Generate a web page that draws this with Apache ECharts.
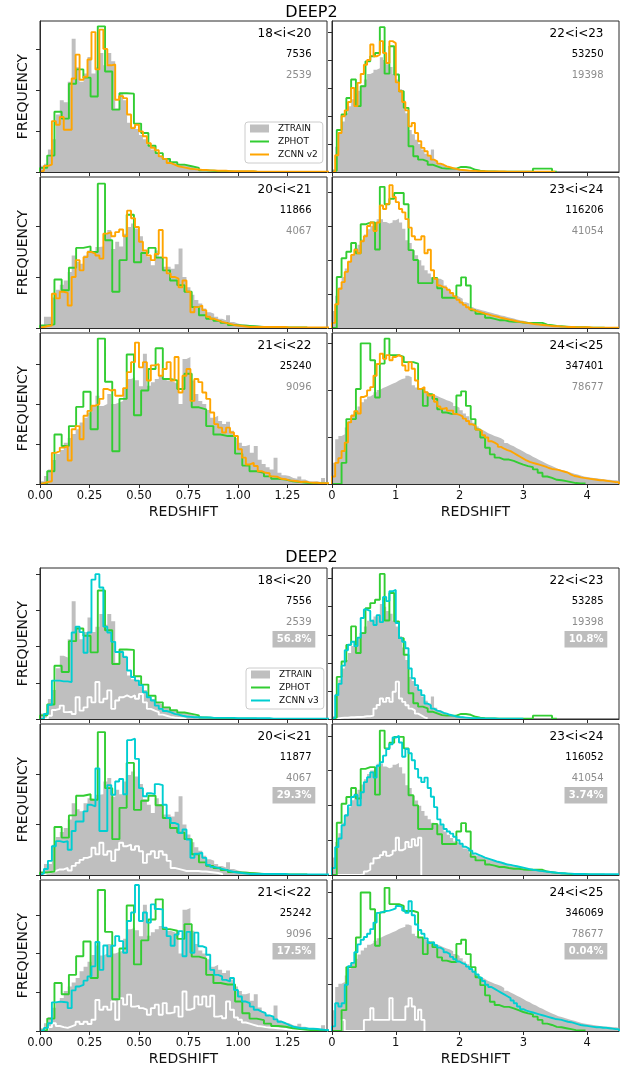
<!DOCTYPE html>
<html><head><meta charset="utf-8">
<script src="https://cdn.jsdelivr.net/npm/echarts@6/dist/echarts.min.js"></script>
<style>html,body{margin:0;padding:0;background:#fff}#c{width:633px;height:1070px}</style>
</head><body><div id="c"></div>
<script>
// ---------------- DATA (heights in units of the y tick spacing) ----------------
// bin widths
const FINE_L = 0.02, FINE_R = 0.05, PHOT_L = 0.0365, PHOT_R = 0.075;

const magLabels = ['18<i<20','20<i<21','21<i<22','22<i<23','23<i<24','24<i<25'];
const nPhotV2 = ['7536','11866','25240','53250','116206','347401'];
const nPhotV3 = ['7556','11877','25242','53285','116052','346069'];
const nTrain  = ['2539','4067','9096','19398','41054','78677'];
const pctV3   = ['56.8%','29.3%','17.5%','10.8%','3.74%','0.04%'];
const xTicksLeft = [0,0.25,0.5,0.75,1,1.25];
const xTicksRight = [0,1,2,3,4];

// 18<i<20
const ztrain_18_20 = [0.15,0.2,0.55,0.8,1.4,1.75,1.7,2.2,3.25,2.55,2.2,2.4,2.8,2.4,2.55,2.9,2.6,2.9,2.7,1.55,1.9,1.75,1.2,1.1,1.05,0.9,0.8,0.65,0.55,0.45,0.4,0.33,0.3,0.24,0.2,0.19,0.15,0.14,0.1,0.08,0.06,0.05,0.04,0.03,0.03,0.02,0.02,0.01,0.01,0.01,0,0.01,0,0,0.01];
const zphot_18_20 = [0.1,0.4,1.47,1.3,2.15,2.5,2.3,1.84,3.55,2.45,1.52,1.92,1.91,1.18,0.95,0.64,0.46,0.32,0.24,0.18,0.14,0.1,0.04,0.03,0.02,0.02,0.01,0.01,0.01,0.01];
const zcnn2_18_20 = [0.03,0.15,0.18,1.24,1.15,1.34,1.03,1.03,2.28,2.86,2.25,2.32,2.74,3.41,2.5,3.47,3.0,2.6,2.62,1.76,1.85,1.8,1.4,1.07,1.15,0.99,0.87,0.7,0.59,0.53,0.38,0.32,0.22,0.18,0.14,0.12,0.1,0.08,0.07,0.06,0.05,0.05,0.04,0.04,0.03,0.03,0.03,0.02,0.02,0.02,0.02,0.02,0.02,0.02,0.01,0.01,0.01,0.01,0.01,0.01,0.01,0.01,0.01,0.01,0.01,0.01,0.01,0.01,0.01,0.01,0.01,0.01,0.01];
const zcnn3_18_20 = [0.01,0.14,0.39,1.06,1.06,1.04,1.04,1.02,2.39,2.55,2.4,1.83,2.39,3.85,4.0,3.63,2.55,2.39,2.13,1.85,1.85,1.71,1.34,1.16,1.06,0.93,0.74,0.6,0.51,0.37,0.28,0.22,0.19,0.14,0.12,0.09,0.07,0.06,0.05,0.05,0.04,0.04,0.04,0.03,0.03,0.03,0.03,0.03,0.03,0.02,0.02,0.02,0.02,0.02,0.02,0.02,0.02,0.02,0.01,0.01,0.01,0.01,0.01,0.01,0.01,0.01,0.01,0.01,0.01,0.01,0.01,0.01,0.01];
const zsub_18_20 = [0,0.02,0.09,0.25,0.28,0.37,0.19,0.2,0.14,0.6,0.23,0.32,0.6,0.46,1.02,0.46,0.56,0.79,0.28,0.51,0.6,0.65,0.6,0.65,0.56,0.69,0.46,0.28,0.23,0.19,0.12,0.09,0.06,0.04,0.03,0.02,0.01];

// 20<i<21
const ztrain_20_21 = [0.05,0.22,0.22,0.6,0.75,0.85,0.93,1.1,1.42,1.3,1.26,1.42,1.52,1.5,1.59,1.6,1.85,1.92,1.55,1.69,1.6,1.85,1.98,2.05,1.95,1.8,1.5,1.39,1.23,1.52,1.4,1.2,1.2,1.16,1.25,1.56,1.0,0.8,0.65,0.55,0.48,0.38,0.31,0.28,0.22,0.18,0.15,0.25,0.12,0.09,0.07,0.07,0.06,0.06,0.05,0.04,0.04,0.03,0.02,0.02,0.02,0.02,0.02,0.02,0.02,0.01,0.01,0.01,0.01,0.01,0.01,0.01,0.01];
const zphot_20_21 = [0.05,0.07,0.95,0.74,1.18,1.57,1.6,1.49,2.83,1.72,0.71,1.33,2.22,1.29,1.47,1.57,1.38,1.13,0.93,0.84,0.71,0.41,0.25,0.18,0.14,0.1,0.06,0.05,0.04,0.03,0.02,0.02,0.01,0.01,0.01,0.01,0.01];
const zcnn2_20_21 = [0.02,0.04,0.05,0.67,0.58,0.71,0.69,0.44,1.0,1.33,1.13,1.39,1.49,1.46,1.42,1.36,1.85,1.88,1.8,1.88,1.93,1.8,2.3,2.15,1.98,1.69,1.52,1.42,1.33,1.45,1.92,1.38,1.07,1.0,0.97,0.8,0.93,0.71,0.31,0.41,0.44,0.35,0.22,0.18,0.15,0.12,0.1,0.08,0.06,0.05,0.04,0.03,0.02,0.02,0.02,0.02,0.02,0.02,0.02,0.02,0.02,0.02,0.01,0.01,0.01,0.01,0.01,0.01,0.01,0.01,0.01,0.01,0.01];
const zcnn3_20_21 = [0.03,0.12,0.28,0.57,0.67,0.65,0.67,0.5,0.87,1.06,1.06,1.26,1.39,1.36,2.11,0.87,0.87,1.78,1.59,1.85,1.9,1.6,2.67,2.7,2.3,1.72,1.56,1.62,1.6,1.8,1.78,1.39,1.13,1.03,1.0,0.83,0.9,0.7,0.34,0.42,0.44,0.34,0.2,0.16,0.14,0.12,0.1,0.08,0.06,0.05,0.04,0.03,0.02,0.02,0.02,0.02,0.02,0.02,0.02,0.02,0.02,0.02,0.01,0.01,0.01,0.01,0.01,0.01,0.01,0.01,0.01,0.01,0.01];
const zsub_20_21 = [0.01,0.04,0.06,0.08,0.11,0.11,0.14,0.09,0.18,0.24,0.3,0.34,0.37,0.54,0.41,0.64,0.4,0.47,0.28,0.5,0.64,0.57,0.6,0.5,0.57,0.47,0.24,0.41,0.47,0.34,0.47,0.4,0.28,0.14,0.12,0.1,0.08,0.08,0.08,0.08,0.07,0.07,0.06,0.05,0.04,0.02];

// 21<i<22
const ztrain_21_22 = [0.07,0.2,0.36,0.6,0.75,0.85,1.03,1.15,1.25,1.37,1.54,1.66,1.79,1.96,2.21,1.95,2.0,2.25,2.0,2.04,2.08,2.38,2.63,2.67,2.6,2.45,3.26,2.46,2.55,2.63,2.71,2.65,2.59,2.55,2.5,2.0,3.13,3.18,2.59,2.25,2.08,2.0,1.85,1.66,1.71,1.58,1.5,1.56,1.33,1.15,1.03,0.95,0.98,0.78,0.95,0.61,0.5,0.42,0.36,0.66,0.28,0.22,0.2,0.15,0.13,0.19,0.11,0.07,0.06,0.07,0.05,0.15,0.05];
const zphot_21_22 = [0.02,0.32,1.24,0.95,1.45,1.93,2.31,1.37,3.64,2.56,0.82,2.13,3.24,1.72,2.34,2.88,3.4,2.63,2.59,2.38,2.76,1.92,1.87,1.45,1.24,1.2,1.2,0.76,0.46,0.32,0.28,0.19,0.13,0.11,0.07,0.05,0.03,0.02,0.02,0.01];
const zcnn2_21_22 = [0.02,0.05,0.07,0.78,0.82,0.91,0.95,0.59,1.37,1.45,1.12,1.71,1.83,1.96,2.0,2.13,2.38,2.34,2.36,2.21,2.21,2.4,2.8,3.05,3.54,2.92,3.05,2.59,2.97,3.0,2.71,2.88,3.05,2.59,3.18,2.29,2.71,2.88,2.08,2.63,2.55,2.29,2.13,1.79,1.5,1.41,1.29,1.41,1.29,1.2,0.87,0.66,0.49,0.53,0.45,0.32,0.28,0.27,0.19,0.18,0.13,0.12,0.09,0.08,0.07,0.05,0.06,0.04,0.03,0.03,0.02,0.02,0.02];
const zcnn3_21_22 = [0.02,0.08,0.2,0.74,0.76,0.75,0.74,0.59,1.05,1.15,1.19,1.3,1.41,1.67,2.3,1.58,2.21,1.93,2.2,2.45,2.32,2.02,2.84,3.06,3.77,2.84,3.06,2.8,3.27,3.15,3.14,2.67,2.45,2.2,2.49,2.58,1.93,2.56,2.02,2.54,2.19,2.15,1.97,1.58,1.45,1.41,1.32,1.28,1.37,1.06,0.89,0.76,0.72,0.63,0.55,0.5,0.46,0.4,0.37,0.3,0.24,0.2,0.15,0.11,0.09,0.07,0.07,0.06,0.06,0.05,0.04,0.03,0.02];
const zsub_21_22 = [0.01,0.03,0.1,0.2,0.13,0.1,0.08,0.12,0.16,0.24,0.18,0.24,0.18,0.29,0.8,0.55,0.63,0.55,0.76,0.29,0.85,0.68,0.94,0.63,0.65,0.59,0.55,0.42,0.59,0.68,0.42,0.72,0.46,0.48,0.63,0.37,1.02,0.55,0.59,0.89,0.68,0.89,0.63,0.91,0.37,0.39,0.33,0.76,0.55,0.35,0.29,0.22,0.19,0.16,0.13,0.12,0.1,0.09,0.08,0.07,0.06,0.05,0.04,0.03,0.03,0.02,0.02,0.01,0.01,0.01];

// 22<i<23
const ztrain_22_23 = [0.1,0.9,1.4,1.8,2.1,2.35,2.6,2.8,2.9,3.1,3.3,3.5,3.55,3.65,3.7,4.1,4.0,3.85,3.75,3.5,3.3,2.95,2.55,2.1,1.5,1.35,1.15,1.0,0.8,0.65,0.55,0.8,0.4,0.32,0.26,0.2,0.17,0.14,0.11,0.09,0.08,0.06,0.05,0.05,0.04,0.03,0.03,0.03,0.02,0.02,0.02,0.02,0.01,0.01,0.01,0.01,0.01,0.01,0.01,0.01,0.01,0.01];
const zphot_22_23 = [0.05,1.5,2.05,2.64,3.3,2.35,3.06,3.95,4.13,4.25,5.17,3.51,4.49,3.48,2.88,2.29,0.92,0.56,0.44,0.38,0.26,0.2,0.14,0.12,0.12,0.12,0.18,0.18,0.15,0.08,0.05,0.03,0.02,0.02,0.01,0.01,0.01,0.01,0.01,0.01,0.01,0.01,0.12,0.12,0.12,0.12,0.01];
const zcnn2_22_23 = [0,0.6,1.39,1.99,2.2,2.5,3.0,2.35,3.18,3.5,3.83,4.0,4.55,4.13,4.19,4.67,4.25,3.89,4.67,4.6,3.2,2.88,2.5,2.2,1.63,1.75,1.39,1.1,0.86,0.74,0.58,0.44,0.38,0.3,0.26,0.2,0.17,0.14,0.11,0.08,0.07,0.06,0.05,0.04,0.04,0.03,0.03,0.03,0.02,0.02,0.02,0.02,0.02,0.02,0.01,0.01,0.01,0.01,0.01,0.01,0.01,0.01,0.01,0.01,0.01,0.01,0.01,0.01,0.01,0.01];
const zcnn3_22_23 = [0.05,0.85,1.25,1.9,2.45,2.65,2.75,2.6,2.9,3.6,3.9,3.85,3.5,3.35,3.7,3.45,4.35,4.2,4.55,4.6,3.42,2.88,2.75,2.52,1.8,1.45,1.2,1.03,0.85,0.55,0.49,0.37,0.3,0.27,0.22,0.19,0.15,0.12,0.09,0.07,0.06,0.05,0.04,0.03,0.03,0.03,0.02,0.02,0.02,0.02,0.02,0.01,0.01,0.01,0.01,0.01,0.01,0.01,0.01,0.01];
const zsub_22_23 = [0,0.02,0.04,0.05,0.05,0.06,0.06,0.07,0.07,0.08,0.1,0.1,0.12,0.37,0.5,0.73,0.61,0.75,0.61,0.97,1.33,0.73,0.61,0.49,0.37,0.31,0.19,0.13,0.06,0.02];

// 23<i<24
const ztrain_23_24 = [0.5,0.95,1.2,1.5,1.75,1.95,2.15,2.35,2.45,2.6,2.75,2.9,3.0,3.05,3.2,3.2,3.12,3.07,3.1,3.17,3.22,3.1,2.92,2.58,2.5,2.28,2.14,1.99,1.84,1.7,1.6,1.5,1.45,1.45,1.4,1.25,1.16,1.06,0.96,0.91,0.86,0.76,0.72,0.62,0.57,0.55,0.52,0.5,0.47,0.45,0.42,0.4,0.37,0.35,0.32,0.3,0.28,0.25,0.23,0.21,0.19,0.17,0.16,0.14,0.12,0.11,0.1,0.09,0.08,0.07,0.06,0.06,0.05,0.05,0.04,0.04,0.03,0.03,0.03,0.02,0.02,0.02,0.02,0.02,0.01,0.01,0.01,0.01,0.01,0.01];
const zphot_23_24 = [0,1.5,2.05,2.24,2.5,2.2,3.05,3.1,3.1,2.31,4.15,3.64,3.8,3.97,3.97,3.64,2.29,2.0,1.32,1.32,1.32,1.47,1.17,0.89,0.89,0.89,1.25,1.49,1.25,0.52,0.42,0.42,0.3,0.27,0.23,0.23,0.2,0.18,0.18,0.16,0.15,0.15,0.15,0.15,0.1,0.08,0.06,0.05,0.04,0.03,0.02,0.02,0.02,0.01,0.01,0.01,0.01];
const zcnn2_23_24 = [0.15,0.7,1.15,1.35,1.65,1.95,2.15,2.3,2.2,2.55,2.7,3.0,3.1,2.85,3.1,3.6,3.5,3.65,4.2,3.85,3.7,3.5,3.4,3.2,2.95,2.7,2.6,2.6,2.7,2.2,2.3,1.7,1.45,1.25,1.2,1.18,1.12,1.03,0.93,0.83,0.75,0.68,0.61,0.55,0.51,0.48,0.45,0.42,0.4,0.37,0.35,0.33,0.3,0.28,0.26,0.24,0.22,0.2,0.18,0.17,0.15,0.14,0.12,0.11,0.1,0.09,0.08,0.07,0.06,0.05,0.05,0.04,0.04,0.03,0.03,0.03,0.02,0.02,0.02,0.02,0.02,0.01,0.01,0.01,0.01,0.01,0.01,0.01,0.01,0.01];
const zcnn3_23_24 = [0.2,0.8,1.05,1.43,1.71,2.0,2.24,2.3,2.0,2.38,2.67,2.81,2.95,2.8,3.14,3.24,3.43,3.62,3.76,3.95,4.0,3.81,3.4,3.62,3.5,3.3,3.05,2.8,2.67,2.8,2.5,2.25,1.95,1.6,1.45,1.32,1.25,1.19,1.1,1.0,0.9,0.81,0.76,0.7,0.62,0.58,0.54,0.5,0.47,0.44,0.41,0.38,0.36,0.33,0.3,0.29,0.27,0.25,0.23,0.21,0.19,0.17,0.15,0.14,0.12,0.11,0.1,0.09,0.08,0.07,0.06,0.05,0.05,0.04,0.04,0.03,0.03,0.03,0.03,0.02,0.02,0.02,0.02,0.02,0.02,0.02,0.02,0.02,0.02,0.02];
const zsub_23_24 = [0,0,0,0,0,0,0,0,0,0.02,0.1,0.15,0.33,0.48,0.5,0.57,0.67,0.55,0.6,0.7,1.07,0.71,0.76,0.95,0.8,1.03,0.85,1.07];

// 24<i<25
const ztrain_24_25 = [0.45,0.95,1.02,1.06,1.2,1.35,1.48,1.56,1.65,1.74,1.8,1.86,1.9,1.95,2.0,2.04,2.07,2.1,2.13,2.16,2.2,2.23,2.25,2.3,2.27,2.1,2.05,2.0,1.99,1.96,1.92,1.9,1.87,1.84,1.81,1.78,1.76,1.72,1.66,1.62,1.57,1.5,1.44,1.37,1.3,1.22,1.16,1.12,1.08,1.05,1.02,1.0,0.97,0.93,0.87,0.83,0.8,0.76,0.73,0.69,0.65,0.62,0.58,0.55,0.51,0.48,0.44,0.41,0.38,0.35,0.32,0.3,0.28,0.26,0.24,0.22,0.2,0.18,0.16,0.15,0.14,0.13,0.12,0.11,0.1,0.09,0.09,0.08,0.08,0.07];
const zphot_24_25 = [0,0,0.45,1.38,1.38,2.02,2.99,2.99,2.63,1.84,2.56,3.09,2.74,2.74,2.7,2.59,2.59,2.56,2.02,1.66,1.91,1.81,1.59,1.52,1.49,1.49,1.88,1.97,1.66,1.38,1.16,0.99,0.77,0.63,0.56,0.52,0.52,0.49,0.45,0.41,0.38,0.36,0.31,0.24,0.16,0.13,0.09,0.08,0.06,0.04,0.02,0.01,0.01];
const zcnn2_24_25 = [0.16,0.45,0.55,0.7,0.88,1.31,1.45,1.55,1.5,1.85,1.88,1.99,2.06,2.3,2.55,2.77,2.66,2.74,2.63,2.7,2.74,2.7,2.52,2.41,2.59,2.45,2.2,2.02,2.06,1.95,1.88,1.9,1.75,1.65,1.6,1.62,1.56,1.56,1.49,1.47,1.44,1.39,1.34,1.27,1.24,1.16,1.13,1.04,0.99,0.91,0.88,0.84,0.79,0.75,0.72,0.7,0.66,0.62,0.58,0.54,0.5,0.47,0.45,0.43,0.41,0.39,0.37,0.34,0.32,0.31,0.3,0.28,0.26,0.24,0.2,0.17,0.16,0.14,0.13,0.12,0.11,0.1,0.09,0.08,0.08,0.07,0.06,0.05,0.04,0.04];
const zcnn3_24_25 = [0.1,0.6,0.53,0.6,1.0,1.4,1.47,1.7,1.87,1.97,2.03,2.1,2.2,2.34,2.55,2.57,2.59,2.6,2.62,2.65,2.7,2.68,2.6,2.55,2.8,2.5,2.3,2.18,2.1,2.0,1.9,1.92,1.85,1.8,1.76,1.7,1.66,1.6,1.55,1.5,1.46,1.44,1.39,1.34,1.28,1.22,1.15,1.08,1.0,0.95,0.91,0.87,0.83,0.79,0.75,0.71,0.66,0.6,0.53,0.47,0.44,0.42,0.4,0.38,0.36,0.34,0.32,0.3,0.28,0.26,0.25,0.24,0.22,0.2,0.19,0.17,0.15,0.13,0.12,0.11,0.1,0.09,0.08,0.08,0.07,0.07,0.06,0.05,0.04,0.04];
const zsub_24_25 = [0,0,0,0.24,0,0,0,0,0,0,0.24,0.24,0.49,0.24,0.24,0.24,0.24,0.24,0.71,0.24,0.24,0.24,0.24,0.53,0.71,0.53,0.24,0.46,0.24];

// ---------------- BUILD ----------------
const trainSets = [ztrain_18_20, ztrain_20_21, ztrain_21_22, ztrain_22_23, ztrain_23_24, ztrain_24_25];
const photSets  = [zphot_18_20, zphot_20_21, zphot_21_22, zphot_22_23, zphot_23_24, zphot_24_25];
const cnn2Sets  = [zcnn2_18_20, zcnn2_20_21, zcnn2_21_22, zcnn2_22_23, zcnn2_23_24, zcnn2_24_25];
const cnn3Sets  = [zcnn3_18_20, zcnn3_20_21, zcnn3_21_22, zcnn3_22_23, zcnn3_23_24, zcnn3_24_25];
const subSets   = [zsub_18_20, zsub_20_21, zsub_21_22, zsub_22_23, zsub_23_24, zsub_24_25];

const FONT = 'DejaVu Sans';
const C_TRAIN = '#bfbfbf', C_PHOT = '#32cd32', C_V2 = '#ffa500', C_V3 = '#00ced1', C_AX = '#2b2b2b';
const LINE_W = 1.9;
const yMax = [[3.68,2.96,3.78,5.39,4.44,3.21],[4.17,2.99,3.9,5.38,4.34,3.26]];
const colLeft = [40, 332], W = 287, H = 151;
const rowTop = [[21,177,333],[568,724,880]];

function steps(vals, w) {
  const pts = [[0, 0]];
  vals.forEach((v, i) => pts.push([i * w, v]));
  pts.push([vals.length * w, 0]);
  return pts;
}

const option = {
  animation: false,
  backgroundColor: '#ffffff',
  grid: [], xAxis: [], yAxis: [], series: [],
  legend: [],
  graphic: { elements: [] }
};

let gi = 0;
for (let f = 0; f < 2; f++) {
  for (let j = 0; j < 6; j++) {
    const col = j < 3 ? 0 : 1, row = j % 3;
    const isL = col === 0, bottom = row === 2;
    const left = colLeft[col], top = rowTop[f][row];
    const ym = yMax[f][j];
    option.grid.push({ left: left, top: top, width: W, height: H, show: true,
      borderColor: C_AX, borderWidth: 1, backgroundColor: 'transparent',
      containLabel: false, outerBoundsMode: 'none' });
    const xt = isL ? xTicksLeft : xTicksRight;
    option.xAxis.push({
      gridIndex: gi, type: 'value', min: 0, max: isL ? 1.45 : 4.5, interval: isL ? 0.25 : 1, z: 10,
      axisLine: { show: true, onZero: false, lineStyle: { color: C_AX, width: 1 } },
      splitLine: { show: false },
      axisTick: { show: true, length: 4, lineStyle: { color: C_AX, width: 1 }, customValues: xt },
      axisLabel: { show: bottom, customValues: xt, margin: 6,
        fontSize: 11.5, color: '#111', fontFamily: FONT,
        formatter: v => isL ? v.toFixed(2) : String(Math.round(v)) },
      name: bottom ? 'REDSHIFT' : '', nameLocation: 'middle', nameGap: 21,
      nameTextStyle: { fontSize: 14, color: '#111', fontFamily: FONT }
    });
    const yt = [];
    for (let t = 0; t <= ym; t++) yt.push(t);
    option.yAxis.push({
      gridIndex: gi, type: 'value', min: 0, max: ym, interval: 1, z: 10,
      axisLine: { show: true, onZero: false, lineStyle: { color: C_AX, width: 1 } },
      splitLine: { show: false },
      axisTick: { show: true, length: 4, lineStyle: { color: C_AX, width: 1 }, customValues: yt },
      axisLabel: { show: false },
      name: isL ? 'FREQUENCY' : '', nameLocation: 'middle', nameGap: 10,
      nameTextStyle: { fontSize: 14, color: '#111', fontFamily: FONT }
    });
    const fine = isL ? FINE_L : FINE_R, pw = isL ? PHOT_L : PHOT_R;
    option.series.push({
      type: 'line', name: 'ZTRAIN', xAxisIndex: gi, yAxisIndex: gi, step: 'end',
      data: steps(trainSets[j], fine), symbol: 'none', showSymbol: false, silent: true,
      color: C_TRAIN, lineStyle: { width: 0, color: C_TRAIN },
      areaStyle: { color: C_TRAIN, opacity: 1 }, z: 1
    });
    if (f === 1) {
      option.series.push({
        type: 'line', name: 'ZSUB', xAxisIndex: gi, yAxisIndex: gi, step: 'end',
        data: steps(subSets[j], fine), symbol: 'none', showSymbol: false, silent: true,
        color: '#ffffff', lineStyle: { width: LINE_W, color: '#ffffff' }, z: 2
      });
    }
    option.series.push({
      type: 'line', name: 'ZPHOT', xAxisIndex: gi, yAxisIndex: gi, step: 'end',
      data: steps(photSets[j], pw), symbol: 'none', showSymbol: false, silent: true,
      color: C_PHOT, lineStyle: { width: LINE_W, color: C_PHOT }, z: 3
    });
    const cc = f === 0 ? C_V2 : C_V3;
    option.series.push({
      type: 'line', name: f === 0 ? 'ZCNN v2' : 'ZCNN v3', xAxisIndex: gi, yAxisIndex: gi, step: 'end',
      data: steps((f === 0 ? cnn2Sets : cnn3Sets)[j], fine), symbol: 'none', showSymbol: false, silent: true,
      color: cc, lineStyle: { width: LINE_W, color: cc }, z: 4
    });

    // annotations
    const rx = left + W - 15.5;
    const els = option.graphic.elements;
    els.push({ type: 'text', x: rx, y: top + 13, z: 20, style: { text: magLabels[j], fill: '#000',
      fontSize: 12, fontFamily: FONT, align: 'right', verticalAlign: 'middle' } });
    els.push({ type: 'text', x: rx, y: top + 33.5, z: 20, style: { text: (f === 0 ? nPhotV2 : nPhotV3)[j], fill: '#000',
      fontSize: 10, fontFamily: FONT, align: 'right', verticalAlign: 'middle' } });
    els.push({ type: 'text', x: rx, y: top + 54, z: 20, style: { text: nTrain[j], fill: '#8c8c8c',
      fontSize: 10, fontFamily: FONT, align: 'right', verticalAlign: 'middle' } });
    if (f === 1) {
      els.push({ type: 'rect', z: 19, shape: { x: rx - 39, y: top + 63, width: 42.8, height: 16.4 },
        style: { fill: '#bdbdbd' } });
      els.push({ type: 'text', x: rx, y: top + 71.3, z: 20, style: { text: pctV3[j], fill: '#ffffff',
        fontSize: 10, fontWeight: 'bold', fontFamily: FONT, align: 'right', verticalAlign: 'middle' } });
    }
    gi++;
  }
}

// titles
option.graphic.elements.push({ type: 'text', x: 311.5, y: 12.5, style: { text: 'DEEP2', fill: '#000',
  fontSize: 16, fontFamily: FONT, align: 'center', verticalAlign: 'middle' } });
option.graphic.elements.push({ type: 'text', x: 311.5, y: 558, style: { text: 'DEEP2', fill: '#000',
  fontSize: 16, fontFamily: FONT, align: 'center', verticalAlign: 'middle' } });

function mkLegend(left, top, cnnName) {
  return {
    left: left, top: top, orient: 'vertical', selectedMode: false, z: 30,
    itemWidth: 19, itemHeight: 8, itemGap: 4,
    padding: [2, 5, 4, 4],
    backgroundColor: 'rgba(255,255,255,0.85)', borderColor: '#cccccc', borderWidth: 1, borderRadius: 3,
    textStyle: { fontSize: 9, color: '#111', fontFamily: FONT, padding: [0, 0, 0, 4] },
    data: [
      { name: 'ZTRAIN', icon: 'rect', itemStyle: { color: C_TRAIN, borderWidth: 0 } },
      { name: 'ZPHOT', itemStyle: { opacity: 0 } },
      { name: cnnName, itemStyle: { opacity: 0 } }
    ]
  };
}
option.legend.push(mkLegend(245, 122, 'ZCNN v2'));
option.legend.push(mkLegend(246, 668, 'ZCNN v3'));

const chart = echarts.init(document.getElementById('c'), null, { renderer: 'canvas' });
chart.setOption(option);
</script>
</body></html>
